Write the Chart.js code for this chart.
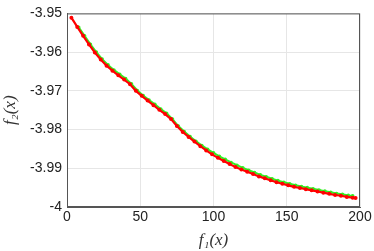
<!DOCTYPE html>
<html>
<head>
<meta charset="utf-8">
<script src="https://cdn.jsdelivr.net/npm/chart.js@4"></script>
<style>
  html, body { margin: 0; padding: 0; background: #fff; }
  #wrap { width: 374px; height: 251px; }
</style>
</head>
<body>
<div id="wrap"><canvas id="chart" width="374" height="251"></canvas></div>
<script>
// red series
var redX = [3, 7, 11, 15, 19, 23, 27, 31, 35, 39, 43, 47, 51, 55, 59, 63, 67, 71, 75, 79, 83, 87, 91, 95, 99,
            103, 107, 111, 115, 119, 123, 127, 131, 135, 139, 143, 147, 151, 155, 159, 163, 167, 171, 175, 179, 183, 187, 191, 195, 197];
var redY = [-3.9511, -3.9535, -3.9558, -3.9580, -3.9601, -3.9619, -3.9635, -3.9648, -3.9660, -3.9671,
            -3.9683, -3.9700, -3.9713, -3.9725, -3.9737, -3.9749, -3.9760, -3.9773, -3.9791, -3.9806,
            -3.9819, -3.9831, -3.9843, -3.9854, -3.9864, -3.9873, -3.9881, -3.9889, -3.9897, -3.9903,
            -3.9909, -3.9915, -3.9921, -3.9926, -3.9931, -3.9936, -3.9940, -3.9944, -3.9948, -3.9951,
            -3.9954, -3.9957, -3.9960, -3.9963, -3.9966, -3.9969, -3.9971, -3.9974, -3.9976, -3.9977];

// green series
var greenX = [8, 12, 16, 20, 24, 28, 32, 36, 40, 44, 48, 52, 56, 60, 64, 68, 72, 76, 80, 84, 88, 92, 96, 100,
              104, 108, 112, 116, 120, 124, 128, 132, 136, 140, 144, 148, 152, 156, 160, 164, 168, 172, 176, 180, 184, 188, 192, 195];
var greenY = [-3.9536, -3.9558, -3.9580, -3.9600, -3.9618, -3.9633, -3.9646, -3.9657, -3.9668, -3.9682,
              -3.9699, -3.9712, -3.9724, -3.9735, -3.9747, -3.9758, -3.9773, -3.9791, -3.9805, -3.9818,
              -3.9830, -3.9841, -3.9851, -3.9860, -3.9869, -3.9877, -3.9885, -3.9892, -3.9899, -3.9905,
              -3.9911, -3.9917, -3.9922, -3.9927, -3.9932, -3.9936, -3.9940, -3.9944, -3.9947, -3.9950,
              -3.9953, -3.9956, -3.9959, -3.9962, -3.9965, -3.9967, -3.9970, -3.9971];

var xTicks = [0, 50, 100, 150, 200];
var xTickLabels = ['0', '50', '100', '150', '200'];
var yTicks = [-4, -3.99, -3.98, -3.97, -3.96, -3.95];
var yTickLabels = ['-4', '-3.99', '-3.98', '-3.97', '-3.96', '-3.95'];

function pts(xs, ys) {
    return xs.map(function(x, i) { return { x: x, y: ys[i] }; });
}

// box around the plot area, like the original figure
var boxPlugin = {
    id: 'box',
    afterDraw: function(chart) {
        var a = chart.chartArea, c = chart.ctx;
        c.save();
        c.strokeStyle = '#555';
        c.lineWidth = 1;
        c.strokeRect(a.left + 0.5, a.top + 0.5, a.right - a.left - 1, a.bottom - a.top - 1);
        c.restore();
    }
};

document.addEventListener("DOMContentLoaded", function() {
    var ctx = document.getElementById('chart').getContext('2d');
    new Chart(ctx, {
        type: 'scatter',
        data: {
            datasets: [{
                label: 'green',
                data: pts(greenX, greenY),
                showLine: true,
                borderColor: '#33ee22',
                backgroundColor: '#33ee22',
                borderWidth: 2,
                pointRadius: 0.8,
                order: 2
            }, {
                label: 'red',
                data: pts(redX, redY),
                showLine: true,
                borderColor: '#ff0000',
                backgroundColor: '#ff0000',
                borderWidth: 2.2,
                pointRadius: 0.9,
                order: 1
            }]
        },
        options: {
            responsive: false,
            animation: false,
            layout: { padding: { top: 7, right: 14, left: 0, bottom: 0 } },
            plugins: {
                legend: { display: false },
                tooltip: { enabled: false }
            },
            scales: {
                x: {
                    type: 'linear',
                    min: 0, max: 200,
                    afterBuildTicks: function(s) { s.ticks = xTicks.map(function(v) { return { value: v }; }); },
                    afterFit: function(s) { s.height = 44; },
                    ticks: {
                        color: '#222',
                        font: { family: 'Liberation Sans', size: 14 },
                        padding: 2,
                        maxRotation: 0,
                        callback: function(v) { return xTickLabels[xTicks.indexOf(v)]; }
                    },
                    grid: { color: '#e6e6e6', drawTicks: false },
                    border: { color: '#555' },
                    title: {
                        display: true,
                        text: 'f\u2081(x)',
                        color: '#333',
                        padding: { top: 0, bottom: 0 },
                        font: { family: 'Liberation Serif', style: 'italic', size: 17 }
                    }
                },
                y: {
                    type: 'linear',
                    min: -4, max: -3.95,
                    afterBuildTicks: function(s) { s.ticks = yTicks.map(function(v) { return { value: v }; }); },
                    afterFit: function(s) { s.width = 67; },
                    ticks: {
                        color: '#222',
                        font: { family: 'Liberation Sans', size: 14 },
                        padding: 5,
                        callback: function(v) {
                            var i = yTicks.findIndex(function(t) { return Math.abs(t - v) < 1e-9; });
                            return yTickLabels[i];
                        }
                    },
                    grid: { color: '#e6e6e6', drawTicks: false },
                    border: { color: '#555' },
                    title: {
                        display: true,
                        text: 'f\u2082(x)',
                        color: '#333',
                        padding: { top: 0, bottom: 2 },
                        font: { family: 'Liberation Serif', style: 'italic', size: 17 }
                    }
                }
            }
        },
        plugins: [boxPlugin]
    });
});
</script>
</body>
</html>
